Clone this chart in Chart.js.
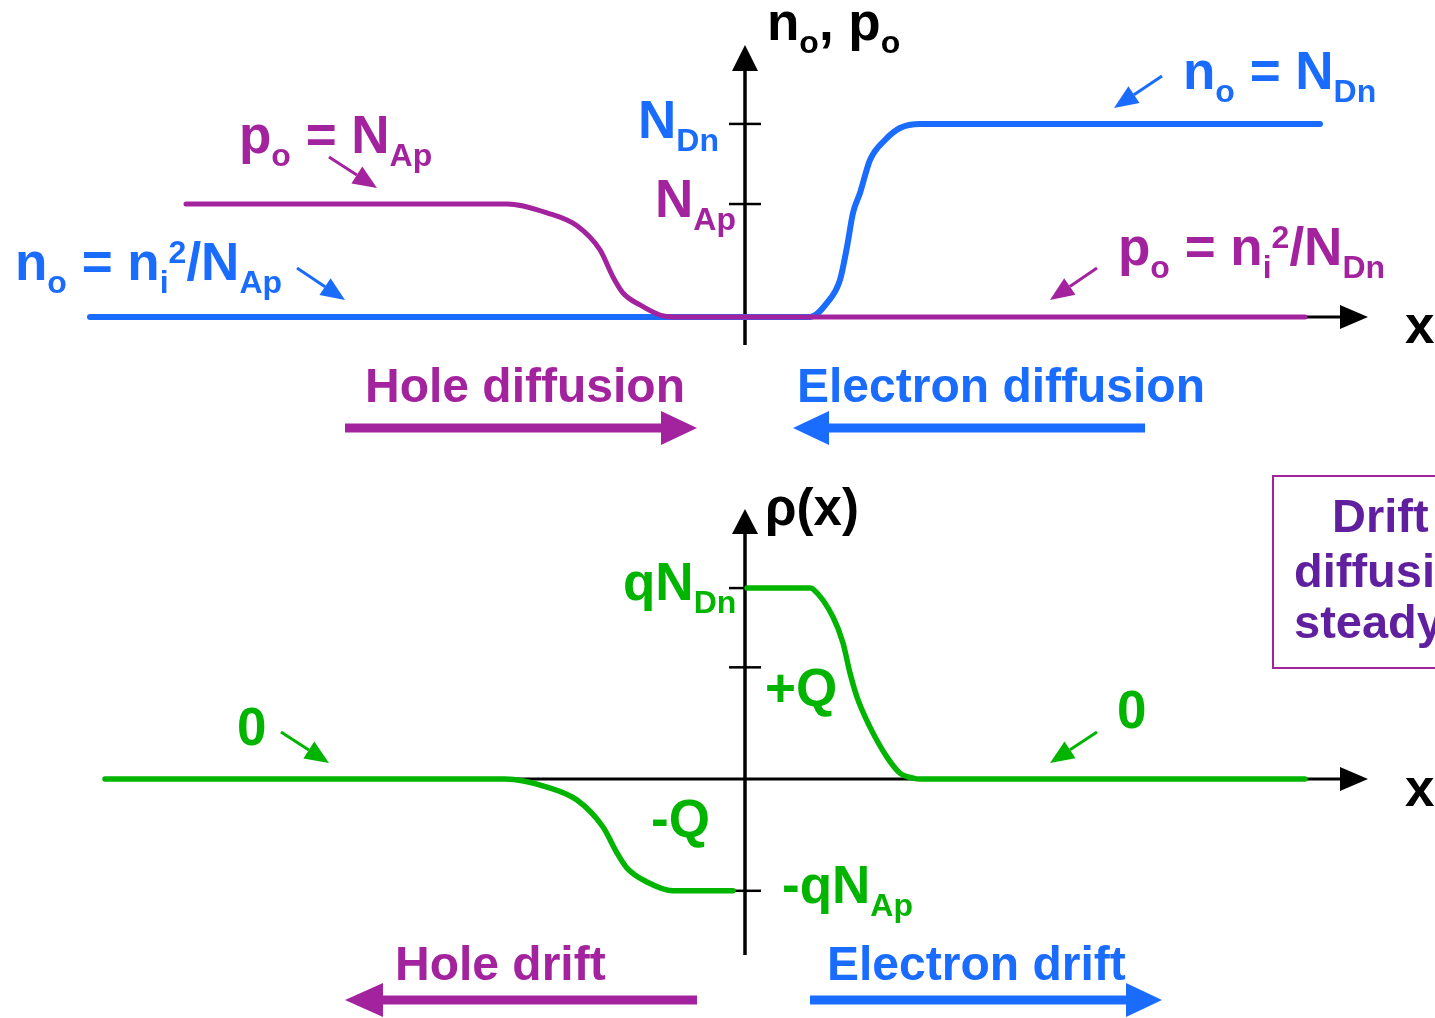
<!DOCTYPE html>
<html>
<head>
<meta charset="utf-8">
<title>p-n junction in equilibrium: carriers and space charge</title>
<script src="https://cdn.jsdelivr.net/npm/chart.js@4.4.1/dist/chart.umd.min.js"></script>
<style>
  html, body { margin: 0; padding: 0; background: #fff; }
  #wrap { width: 1435px; height: 1018px; }
</style>
</head>
<body>
<div id="wrap"><canvas id="junction" width="1435" height="1018"></canvas></div>
<script>
// x = distance from the junction (arbitrary units), concentrations scaled so N_Dn = 10
const N_DN = 10;
const N_AP = 5.85;

// electrons n_o(x)
const electronX = [-6.55, 0.65, 0.82, 0.95, 1.02, 1.08, 1.15, 1.25, 1.40, 1.55, 1.75, 5.75];
const electronY = [0, 0, 0.73, 1.92, 3.63, 5.39, 6.42, 8.13, 9.17, 9.79, 10, 10];

// holes p_o(x)
const holeX = [-5.59, -2.38, -1.98, -1.68, -1.45, -1.32, -1.22, -1.05, -0.85, -0.72, -0.52, 5.60];
const holeY = [5.85, 5.85, 5.39, 4.72, 3.47, 2.07, 1.24, 0.62, 0.10, 0, 0, 0];

// charge density rho(x), p side and n side
const rhoPX = [-6.40, -2.40, -1.98, -1.68, -1.42, -1.28, -1.18, -0.98, -0.72, -0.32, -0.12];
const rhoPY = [0, 0, -0.42, -1.10, -2.51, -3.87, -4.66, -5.39, -5.85, -5.85, -5.85];
const rhoNX = [0.02, 0.65, 0.68, 0.88, 0.98, 1.05, 1.12, 1.25, 1.42, 1.55, 1.68, 1.75, 5.60];
const rhoNY = [10, 10, 9.95, 8.48, 7.12, 5.55, 4.29, 2.72, 1.15, 0.31, 0.05, 0, 0];

const topTicks = [N_DN, N_AP];
const topTickLabels = ['N_{Dn}', 'N_{Ap}'];
const rhoTicks = [N_DN, N_AP, -N_AP];

const BLUE = '#1a6cff';
const PURPLE = '#a3239f';
const GREEN = '#00b400';
const VIOLET = '#5f1f9f';
const FONT = '"Liberation Sans", Arial, sans-serif';

const pts = (xs, ys) => xs.map((x, i) => ({ x: x, y: ys[i] }));

// text with _{sub} and ^{sup} pieces
function rich(ctx, x, y, src, color, size) {
  size = size || 53;
  const small = Math.round(size * 0.6);
  const re = /([_^])\{([^}]*)\}|([^_^]+)/g;
  let m;
  ctx.fillStyle = color;
  ctx.textAlign = 'left';
  ctx.textBaseline = 'alphabetic';
  while ((m = re.exec(src))) {
    let t, s = size, dy = 0;
    if (m[1]) {
      t = m[2]; s = small;
      dy = m[1] === '_' ? size * 0.245 : -size * 0.33;
    } else {
      t = m[3];
    }
    ctx.font = 'bold ' + s + 'px ' + FONT;
    ctx.fillText(t, x, y + dy);
    x += ctx.measureText(t).width;
  }
}

function pointer(ctx, x1, y1, x2, y2, color, w, len, half) {
  const a = Math.atan2(y2 - y1, x2 - x1);
  const bx = x2 - len * Math.cos(a), by = y2 - len * Math.sin(a);
  ctx.strokeStyle = color;
  ctx.fillStyle = color;
  ctx.lineWidth = w;
  ctx.lineCap = 'butt';
  ctx.beginPath(); ctx.moveTo(x1, y1); ctx.lineTo(bx, by); ctx.stroke();
  ctx.beginPath();
  ctx.moveTo(x2, y2);
  ctx.lineTo(bx + half * Math.sin(a), by - half * Math.cos(a));
  ctx.lineTo(bx - half * Math.sin(a), by + half * Math.cos(a));
  ctx.closePath(); ctx.fill();
}

const axesPlugin = {
  id: 'axes',
  beforeDatasetsDraw(chart) {
    const ctx = chart.ctx, s = chart.scales;
    const x0 = s.x.getPixelForValue(0);
    const yt = s.yTop.getPixelForValue(0);
    const yb = s.yBot.getPixelForValue(0);
    ctx.save();
    // top panel axes
    pointer(ctx, 90, yt, 1368, yt, '#000', 3, 28, 12);
    pointer(ctx, x0, yt + 28, x0, 45, '#000', 3.5, 26, 13);
    ctx.lineWidth = 2.5;
    topTicks.forEach(v => {
      const y = s.yTop.getPixelForValue(v);
      ctx.beginPath(); ctx.moveTo(x0 - 16, y); ctx.lineTo(x0 + 16, y); ctx.stroke();
    });
    // bottom panel axes
    pointer(ctx, 505, yb, 1368, yb, '#000', 3, 28, 12);
    pointer(ctx, x0, yb + 176, x0, 509, '#000', 3.5, 25, 13);
    ctx.lineWidth = 2.5;
    ctx.strokeStyle = '#000';
    rhoTicks.forEach(v => {
      const y = s.yBot.getPixelForValue(v);
      ctx.beginPath(); ctx.moveTo(x0 - 16, y); ctx.lineTo(x0 + 16, y); ctx.stroke();
    });
    ctx.restore();
  },
  afterDatasetsDraw(chart) {
    const ctx = chart.ctx, s = chart.scales;
    ctx.save();
    // axis titles
    rich(ctx, 767, 40, 'n_{o}, p_{o}', '#000');
    rich(ctx, 1405, 343, 'x', '#000');
    rich(ctx, 765, 525, '\u03c1(x)', '#000', 51);
    rich(ctx, 1405, 806, 'x', '#000');

    // tick labels on the top axis
    rich(ctx, 638, s.yTop.getPixelForValue(topTicks[0]) + 14, topTickLabels[0], BLUE);
    rich(ctx, 655, s.yTop.getPixelForValue(topTicks[1]) + 13, topTickLabels[1], PURPLE);

    // curve labels, top panel
    rich(ctx, 239, 153, 'p_{o} = N_{Ap}', PURPLE);
    pointer(ctx, 329, 157, 377, 188, PURPLE, 3, 24, 10);
    rich(ctx, 15, 280, 'n_{o} = n_{i}^{2}/N_{Ap}', BLUE);
    pointer(ctx, 297, 268, 345, 300, BLUE, 3, 24, 10);
    rich(ctx, 1183, 89, 'n_{o} = N_{Dn}', BLUE);
    pointer(ctx, 1162, 76, 1114, 108, BLUE, 3, 24, 10);
    rich(ctx, 1118, 265, 'p_{o} = n_{i}^{2}/N_{Dn}', PURPLE);
    pointer(ctx, 1097, 268, 1050, 300, PURPLE, 3, 24, 10);

    // diffusion fluxes
    rich(ctx, 365, 402, 'Hole diffusion', PURPLE, 48);
    pointer(ctx, 345, 428, 697, 428, PURPLE, 9, 36, 17);
    rich(ctx, 797, 402, 'Electron diffusion', BLUE, 48);
    pointer(ctx, 1145, 428, 793, 428, BLUE, 9, 36, 17);

    // charge labels, bottom panel
    rich(ctx, 623, s.yBot.getPixelForValue(rhoTicks[0]) + 12, 'qN_{Dn}', GREEN);
    rich(ctx, 765, 706, '+Q', GREEN);
    rich(ctx, 651, 837, '-Q', GREEN);
    rich(ctx, 782, s.yBot.getPixelForValue(rhoTicks[2]) + 12, '-qN_{Ap}', GREEN);
    rich(ctx, 237, 745, '0', GREEN);
    pointer(ctx, 281, 732, 329, 763, GREEN, 3, 24, 10);
    rich(ctx, 1117, 728, '0', GREEN);
    pointer(ctx, 1097, 732, 1050, 763, GREEN, 3, 24, 10);

    // drift fluxes
    rich(ctx, 395, 980, 'Hole drift', PURPLE, 48);
    pointer(ctx, 697, 1000, 345, 1000, PURPLE, 9, 38, 17);
    rich(ctx, 827, 980, 'Electron drift', BLUE, 48);
    pointer(ctx, 810, 1000, 1162, 1000, BLUE, 9, 36, 17);

    // side note box
    ctx.strokeStyle = PURPLE;
    ctx.lineWidth = 2;
    ctx.strokeRect(1273, 476, 220, 192);
    rich(ctx, 1332, 532, 'Drift', VIOLET, 47);
    rich(ctx, 1294, 587, 'diffusion', VIOLET, 47);
    rich(ctx, 1294, 638, 'steady state', VIOLET, 47);
    ctx.restore();
  }
};

const line = (label, data, color, yAxisID, order, width) => ({
  label: label,
  data: data,
  borderColor: color,
  borderWidth: width,
  pointRadius: 0,
  fill: false,
  cubicInterpolationMode: 'monotone',
  borderCapStyle: 'round',
  yAxisID: yAxisID,
  order: order
});

new Chart(document.getElementById('junction'), {
  type: 'line',
  data: {
    datasets: [
      line('p_o', pts(holeX, holeY), PURPLE, 'yTop', 0, 5),
      line('n_o', pts(electronX, electronY), BLUE, 'yTop', 1, 6),
      line('rho p-side', pts(rhoPX, rhoPY), GREEN, 'yBot', 2, 5.5),
      line('rho n-side', pts(rhoNX, rhoNY), GREEN, 'yBot', 2, 5.5)
    ]
  },
  options: {
    responsive: false,
    animation: false,
    layout: { padding: 0 },
    plugins: { legend: { display: false }, tooltip: { enabled: false } },
    scales: {
      x: { type: 'linear', min: -7.45, max: 6.90, display: false },
      yTop: { type: 'linear', min: -36.32, max: 16.42, display: false },
      yBot: { type: 'linear', min: -12.51, max: 40.79, display: false }
    }
  },
  plugins: [axesPlugin]
});
</script>
</body>
</html>
